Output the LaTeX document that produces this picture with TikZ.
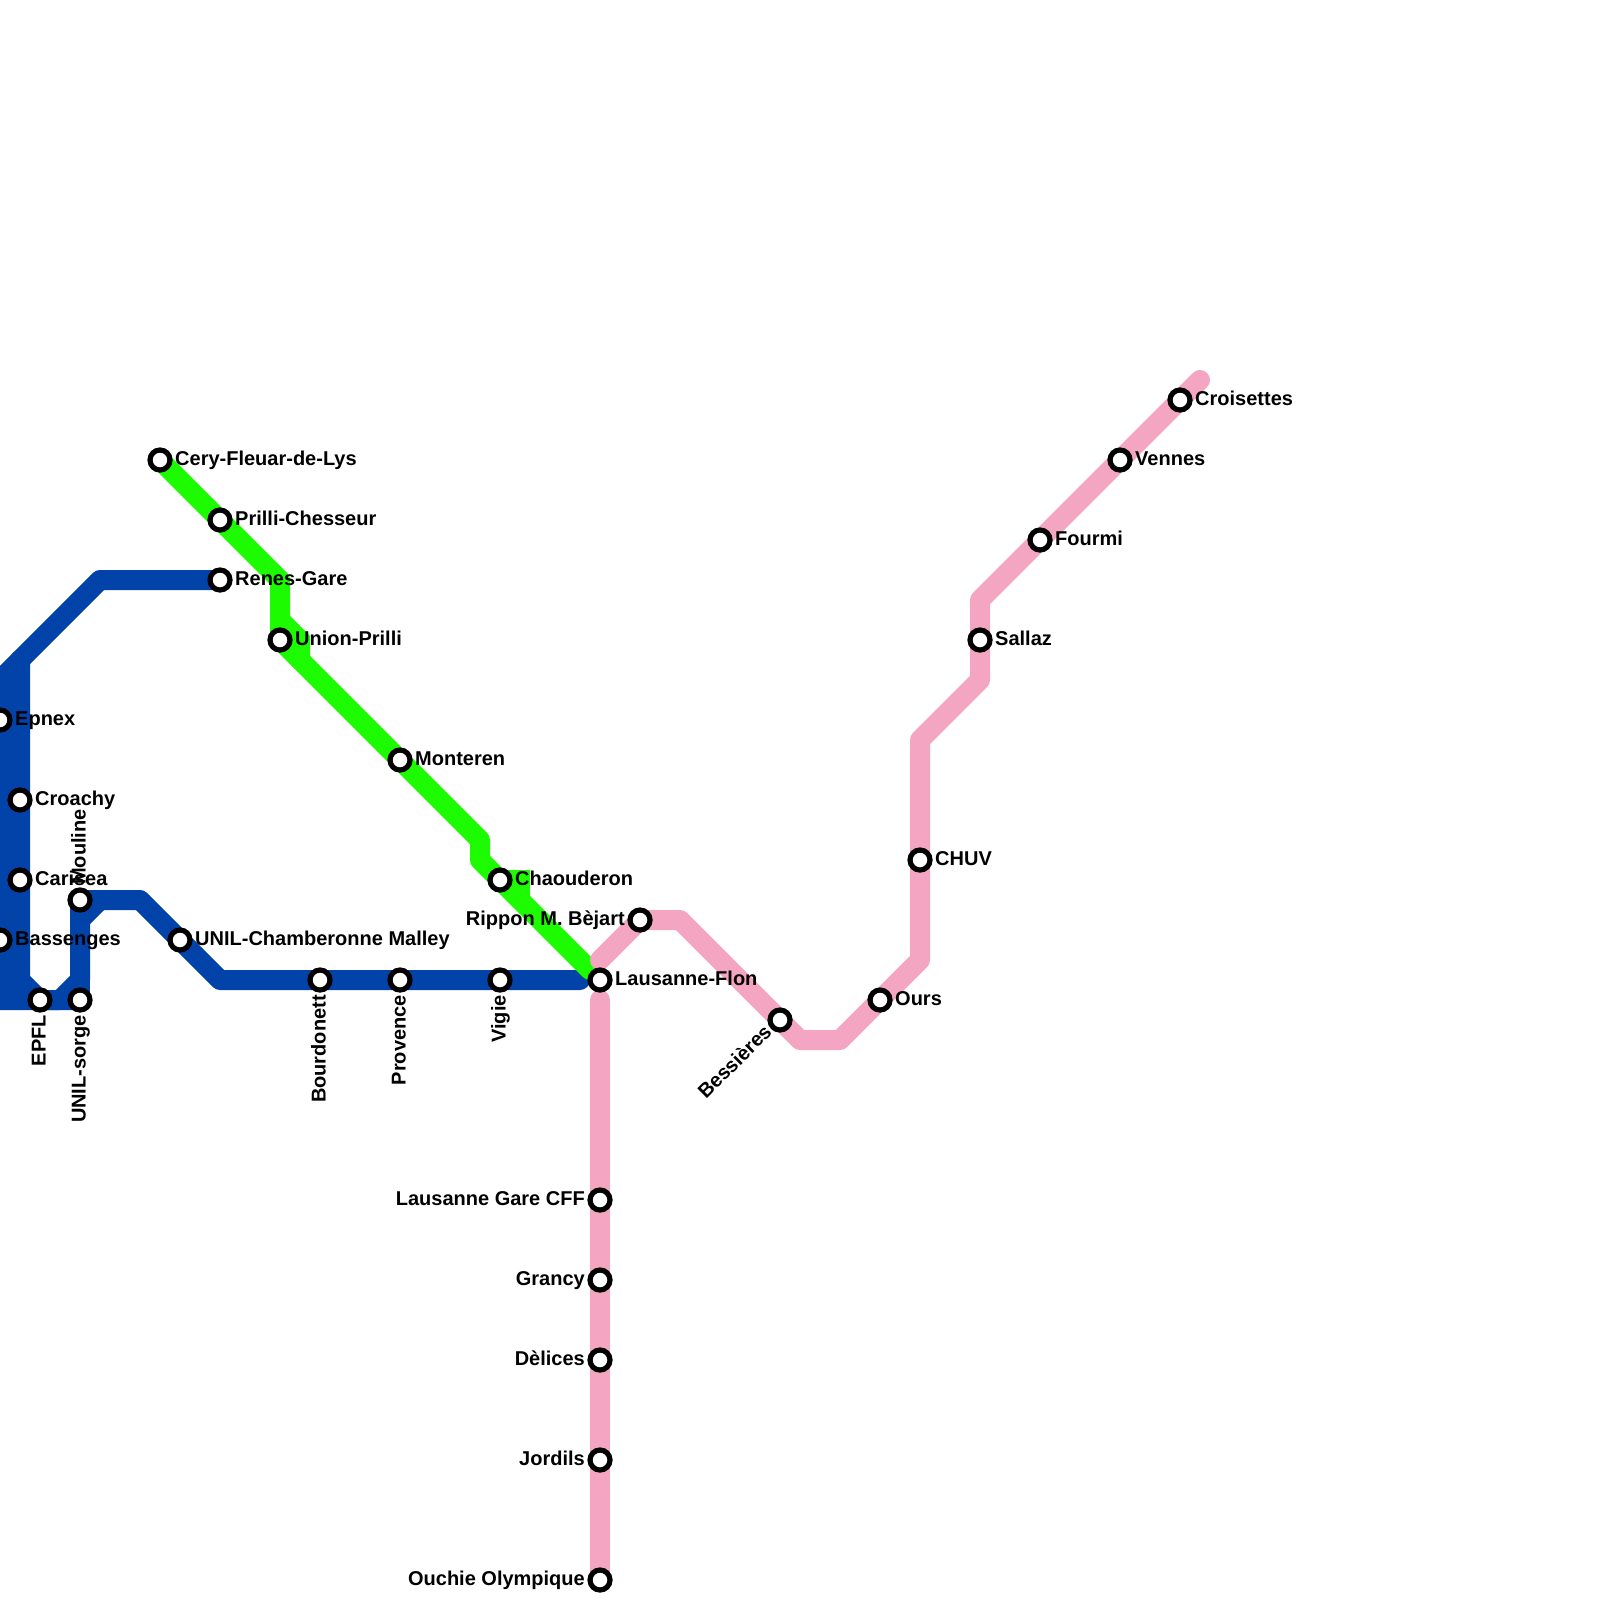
\documentclass[tikz,border=0pt]{standalone}
\usepackage{fontspec}
\setmainfont{Liberation Sans}
\definecolor{lineblue}{HTML}{0243A9}
\definecolor{linegreen}{HTML}{1CFB00}
\definecolor{linepink}{HTML}{F4A5C2}
\tikzset{
  route/.style={line width=20pt,line cap=round,line join=round},
  blueroute/.style={route,draw=lineblue},
  greenroute/.style={route,draw=linegreen},
  pinkroute/.style={route,draw=linepink},
  stn/.style={circle,draw=black,fill=white,line width=5.2pt,minimum size=20pt,inner sep=0pt,outer sep=0pt},
  lbl/.style={font=\fontsize{20}{22}\selectfont\bfseries,inner sep=0pt,text=black},
  rl/.style={lbl,anchor=base west,xshift=15pt,yshift=-5.5pt},
  ll/.style={lbl,anchor=base east,xshift=-15pt,yshift=-5.5pt},
  dl/.style={lbl,anchor=base east,xshift=5.5pt,yshift=-15pt,rotate=90},
  ul/.style={lbl,anchor=base west,xshift=5.5pt,yshift=15pt,rotate=90},
  dg/.style={lbl,anchor=base east,xshift=-7pt,yshift=-13pt,rotate=45},
}
\begin{document}
\begin{tikzpicture}[x=1pt,y=-1pt]
\useasboundingbox (0,0) rectangle (1600,1600);
\clip (0,0) rectangle (1600,1600);
\coordinate (cery) at (160,460);
\coordinate (prilli) at (220,520);
\coordinate (renes) at (220,580);
\coordinate (union) at (280,640);
\coordinate (monteren) at (400,760);
\coordinate (chaou) at (500,880);
\coordinate (flon) at (600,980);
\coordinate (rippon) at (640,920);
\coordinate (bess) at (780,1020);
\coordinate (ours) at (880,1000);
\coordinate (chuv) at (920,860);
\coordinate (sallaz) at (980,640);
\coordinate (fourmi) at (1040,540);
\coordinate (vennes) at (1120,460);
\coordinate (crois) at (1180,400);
\coordinate (gare) at (600,1200);
\coordinate (grancy) at (600,1280);
\coordinate (delices) at (600,1360);
\coordinate (jordils) at (600,1460);
\coordinate (ouchie) at (600,1580);
\coordinate (vigie) at (500,980);
\coordinate (prov) at (400,980);
\coordinate (bourd) at (320,980);
\coordinate (unilc) at (180,940);
\coordinate (mouline) at (80,900);
\coordinate (sorge) at (80,1000);
\coordinate (epfl) at (40,1000);
\coordinate (bassen) at (0,940);
\coordinate (caris) at (20,880);
\coordinate (croachy) at (20,800);
\coordinate (epnex) at (0,720);
% blue
\draw[blueroute] (renes) -- (100,580) -- (0,680) -- (epnex) -- (bassen) -- (0,1000) -- (sorge);
\draw[blueroute] (20,660) -- (croachy) -- (caris) -- (20,980) -- (epfl) -- (60,1000) -- (80,980) -- (mouline);
\draw[blueroute,line cap=butt] (20,980) -- (20,1000);
\draw[blueroute] (mouline) -- (140,900) -- (unilc) -- (220,980) -- (bourd) -- (prov) -- (vigie) -- (580,980);
\draw[blueroute] (80,920) -- (100,900);
\draw[blueroute] (sorge) -- (80,980);
% green
\draw[greenroute] (cery) -- (prilli) -- (280,580) -- (union) -- (monteren) -- (480,840) -- (480,860) -- (chaou) -- (590,970);
\draw[greenroute,line join=miter] (280,620) -- (300,640) -- (300,660);
\draw[greenroute,line join=miter,line cap=butt] (chaou) -- (520,880) -- (520,900);
% pink
\draw[pinkroute] (600,960) -- (rippon) -- (680,920) -- (bess) -- (800,1040) -- (840,1040) -- (ours) -- (920,960) -- (chuv) -- (920,740) -- (980,680) -- (sallaz) -- (980,600) -- (fourmi) -- (vennes) -- (crois) -- (1200,380);
\draw[pinkroute] (600,1000) -- (gare) -- (grancy) -- (delices) -- (jordils) -- (ouchie);
% labels
\node[rl] (lcery) at (cery) {Cery-Fleuar-de-Lys};
\node[rl] (lprilli) at (prilli) {Prilli-Chesseur};
\node[rl] (lrenes) at (renes) {Renes-Gare};
\node[rl] (lunion) at (union) {Union-Prilli};
\node[rl] (lmonteren) at (monteren) {Monteren};
\node[rl] (lchaou) at (chaou) {Chaouderon};
\node[rl] (lflon) at (flon) {Lausanne-Flon};
\node[ll] (lrippon) at (rippon) {Rippon M. Bèjart};
\node[dg] (lbess) at (bess) {Bessières};
\node[rl] (lours) at (ours) {Ours};
\node[rl] (lchuv) at (chuv) {CHUV};
\node[rl] (lsallaz) at (sallaz) {Sallaz};
\node[rl] (lfourmi) at (fourmi) {Fourmi};
\node[rl] (lvennes) at (vennes) {Vennes};
\node[rl] (lcrois) at (crois) {Croisettes};
\node[ll] (lgare) at (gare) {Lausanne Gare CFF};
\node[ll] (lgrancy) at (grancy) {Grancy};
\node[ll] (ldelices) at (delices) {Dèlices};
\node[ll] (ljordils) at (jordils) {Jordils};
\node[ll] (louchie) at (ouchie) {Ouchie Olympique};
\node[dl] (lvigie) at (vigie) {Vigie};
\node[dl] (lprov) at (prov) {Provence};
\node[dl] (lbourd) at (bourd) {Bourdonett};
\node[rl] (lunilc) at (unilc) {UNIL-Chamberonne Malley};
\node[ul] (lmouline) at (mouline) {Mouline};
\node[dl] (lsorge) at (sorge) {UNIL-sorge};
\node[dl] (lepfl) at (epfl) {EPFL};
\node[rl] (lbassen) at (bassen) {Bassenges};
\node[rl] (lcaris) at (caris) {Carisea};
\node[rl] (lcroachy) at (croachy) {Croachy};
\node[rl] (lepnex) at (epnex) {Epnex};
% stations
\foreach \s in {cery,prilli,renes,union,monteren,chaou,flon,rippon,bess,ours,chuv,sallaz,fourmi,vennes,crois,gare,grancy,delices,jordils,ouchie,vigie,prov,bourd,unilc,mouline,sorge,epfl,bassen,caris,croachy,epnex}
  \node[stn] (n\s) at (\s) {};
\end{tikzpicture}
\end{document}
